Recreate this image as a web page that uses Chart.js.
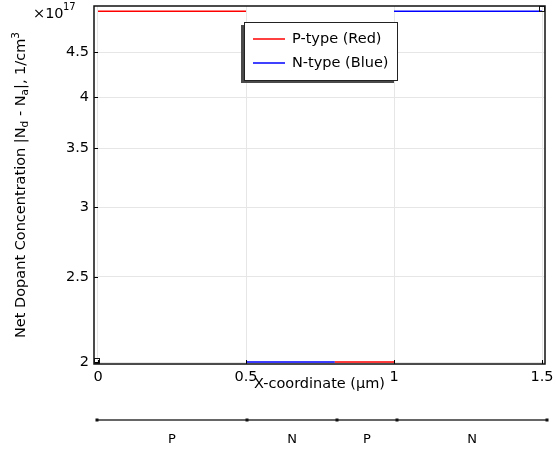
<!DOCTYPE html>
<html>
<head>
<meta charset="utf-8">
<script src="https://cdn.jsdelivr.net/npm/chart.js@4.4.1/dist/chart.umd.min.js"></script>
<style>
html,body{margin:0;padding:0;background:#fff;}
canvas{display:block;}
</style>
</head>
<body>
<canvas id="c" width="556" height="451"></canvas>
<script>
// ---- data ----
const regionBounds = [0, 0.5, 0.8, 1.0, 1.5];
const regionTypes = ['P', 'N', 'P', 'N'];
const regionConc = [5.01e17, 2e17, 2e17, 5.01e17];
const seriesLabels = ['P-type (Red)', 'N-type (Blue)'];
const xTicks = [0, 0.5, 1, 1.5];
const yTicks = [2e17, 2.5e17, 3e17, 3.5e17, 4e17, 4.5e17];

function buildSeries(type) {
  const pts = [];
  for (let i = 0; i < regionTypes.length; i++) {
    if (regionTypes[i] !== type) continue;
    if (pts.length) pts.push({x: regionBounds[i], y: null});
    pts.push({x: regionBounds[i], y: regionConc[i]});
    pts.push({x: regionBounds[i + 1], y: regionConc[i]});
  }
  return pts;
}

const FONT = "'DejaVu Sans', sans-serif";

const decor = {
  id: 'decor',
  afterDraw(chart) {
    const ctx = chart.ctx;
    const a = chart.chartArea;
    const xs = chart.scales.x, ys = chart.scales.y;
    ctx.save();
    // inward tick marks
    ctx.strokeStyle = '#000';
    ctx.lineWidth = 1;
    ctx.beginPath();
    xTicks.forEach(v => {
      const px = Math.round(xs.getPixelForValue(v)) + 0.5;
      ctx.moveTo(px, a.bottom); ctx.lineTo(px, a.bottom - 4);
    });
    yTicks.forEach(v => {
      const py = Math.round(ys.getPixelForValue(v)) + 0.5;
      ctx.moveTo(a.left, py); ctx.lineTo(a.left + 4, py);
    });
    ctx.stroke();
    // axes box
    ctx.strokeStyle = '#111';
    ctx.lineWidth = 1.5;
    ctx.strokeRect(a.left, a.top, a.right - a.left, a.bottom - a.top);
    // corner squares
    ctx.lineWidth = 1;
    ctx.strokeRect(a.left + 0.5, a.bottom - 5.5, 5, 5);
    ctx.strokeRect(a.right - 5.5, a.top + 0.5, 5, 5);

    // legend
    const lx = 244, ly = 22, lw = 153, lh = 58;
    ctx.fillStyle = '#4a4a4a';
    ctx.fillRect(lx - 3, ly + 3, lw, lh);
    ctx.fillStyle = '#fff';
    ctx.fillRect(lx, ly, lw, lh);
    ctx.strokeStyle = '#222';
    ctx.lineWidth = 1;
    ctx.strokeRect(lx + 0.5, ly + 0.5, lw, lh);
    ctx.font = '14.5px ' + FONT;
    ctx.textBaseline = 'middle';
    ctx.textAlign = 'left';
    chart.data.datasets.forEach((ds, i) => {
      const yy = ly + 17 + i * 24;
      ctx.strokeStyle = ds.borderColor;
      ctx.lineWidth = 1.5;
      ctx.beginPath();
      ctx.moveTo(lx + 9, yy); ctx.lineTo(lx + 41, yy);
      ctx.stroke();
      ctx.fillStyle = '#000';
      ctx.fillText(ds.label, lx + 48, yy);
    });

    // multiplier
    ctx.fillStyle = '#000';
    ctx.font = '14.5px ' + FONT;
    ctx.textBaseline = 'alphabetic';
    ctx.fillText('\u00d710', 33, 18);
    ctx.font = '10px ' + FONT;
    ctx.fillText('17', 63, 10);

    // y axis title with sub/superscripts
    const parts = [
      ['Net Dopant Concentration |N', 0],
      ['d', 1],
      [' - N', 0],
      ['a', 1],
      ['|, 1/cm', 0],
      ['3', -1]
    ];
    const big = '14.5px ' + FONT, small = '10.5px ' + FONT;
    let total = 0;
    parts.forEach(p => { ctx.font = p[1] ? small : big; total += ctx.measureText(p[0]).width; });
    ctx.translate(25, (a.top + a.bottom) / 2);
    ctx.rotate(-Math.PI / 2);
    let cx = -total / 2;
    parts.forEach(p => {
      ctx.font = p[1] ? small : big;
      const dy = p[1] === 1 ? 3 : (p[1] === -1 ? -6 : 0);
      ctx.fillText(p[0], cx, dy);
      cx += ctx.measureText(p[0]).width;
    });
    ctx.setTransform(1, 0, 0, 1, 0, 0);

    // x axis title
    ctx.font = '14.5px ' + FONT;
    ctx.textAlign = 'center';
    ctx.textBaseline = 'middle';
    ctx.fillText('X-coordinate (\u00b5m)', (a.left + a.right) / 2, 384);

    // geometry strip
    const sx0 = a.left + 3, sx1 = a.right + 2;
    const lo = regionBounds[0], hi = regionBounds[regionBounds.length - 1];
    const map = v => sx0 + (v - lo) / (hi - lo) * (sx1 - sx0);
    const sy = 420;
    ctx.strokeStyle = '#333';
    ctx.lineWidth = 1.3;
    ctx.beginPath();
    ctx.moveTo(map(lo), sy); ctx.lineTo(map(hi), sy);
    ctx.stroke();
    ctx.fillStyle = '#111';
    regionBounds.forEach(v => {
      ctx.fillRect(map(v) - 1.5, sy - 1.5, 3, 3);
    });
    ctx.font = '13px ' + FONT;
    ctx.fillStyle = '#000';
    regionTypes.forEach((t, i) => {
      ctx.fillText(t, map((regionBounds[i] + regionBounds[i + 1]) / 2), 440);
    });
    ctx.restore();
  }
};

function zeroPad(s) { s.paddingTop = 0; s.paddingBottom = 0; s.paddingLeft = 0; s.paddingRight = 0; }

new Chart(document.getElementById('c'), {
  type: 'line',
  data: {
    datasets: [
      {label: seriesLabels[0], data: buildSeries('P'), borderColor: '#ff0000', borderWidth: 1.5, pointRadius: 0, spanGaps: false, fill: false},
      {label: seriesLabels[1], data: buildSeries('N'), borderColor: '#0000ff', borderWidth: 1.5, pointRadius: 0, spanGaps: false, fill: false}
    ]
  },
  options: {
    responsive: false,
    animation: false,
    layout: {padding: {top: 6, right: 11, left: 0, bottom: 0}},
    plugins: {legend: {display: false}, tooltip: {enabled: false}},
    scales: {
      x: {
        type: 'linear',
        min: -0.0135,
        max: 1.51,
        afterBuildTicks: s => { s.ticks = xTicks.map(v => ({value: v})); },
        afterFit: s => { s.height = 87; zeroPad(s); },
        ticks: {
          callback: v => String(v),
          font: {family: FONT, size: 14.5},
          color: '#000',
          padding: 5,
          maxRotation: 0,
          autoSkip: false
        },
        grid: {color: '#e6e6e6', drawTicks: false, lineWidth: 1},
        border: {display: false}
      },
      y: {
        type: 'logarithmic',
        min: 1.99e17,
        max: 5.08e17,
        afterBuildTicks: s => { s.ticks = yTicks.map(v => ({value: v})); },
        afterFit: s => { s.width = 94; zeroPad(s); },
        ticks: {
          callback: v => String(Number((v / 1e17).toFixed(2))),
          font: {family: FONT, size: 14.5},
          color: '#000',
          padding: 5,
          autoSkip: false
        },
        grid: {color: '#e6e6e6', drawTicks: false, lineWidth: 1},
        border: {display: false}
      }
    }
  },
  plugins: [decor]
});
</script>
</body>
</html>
